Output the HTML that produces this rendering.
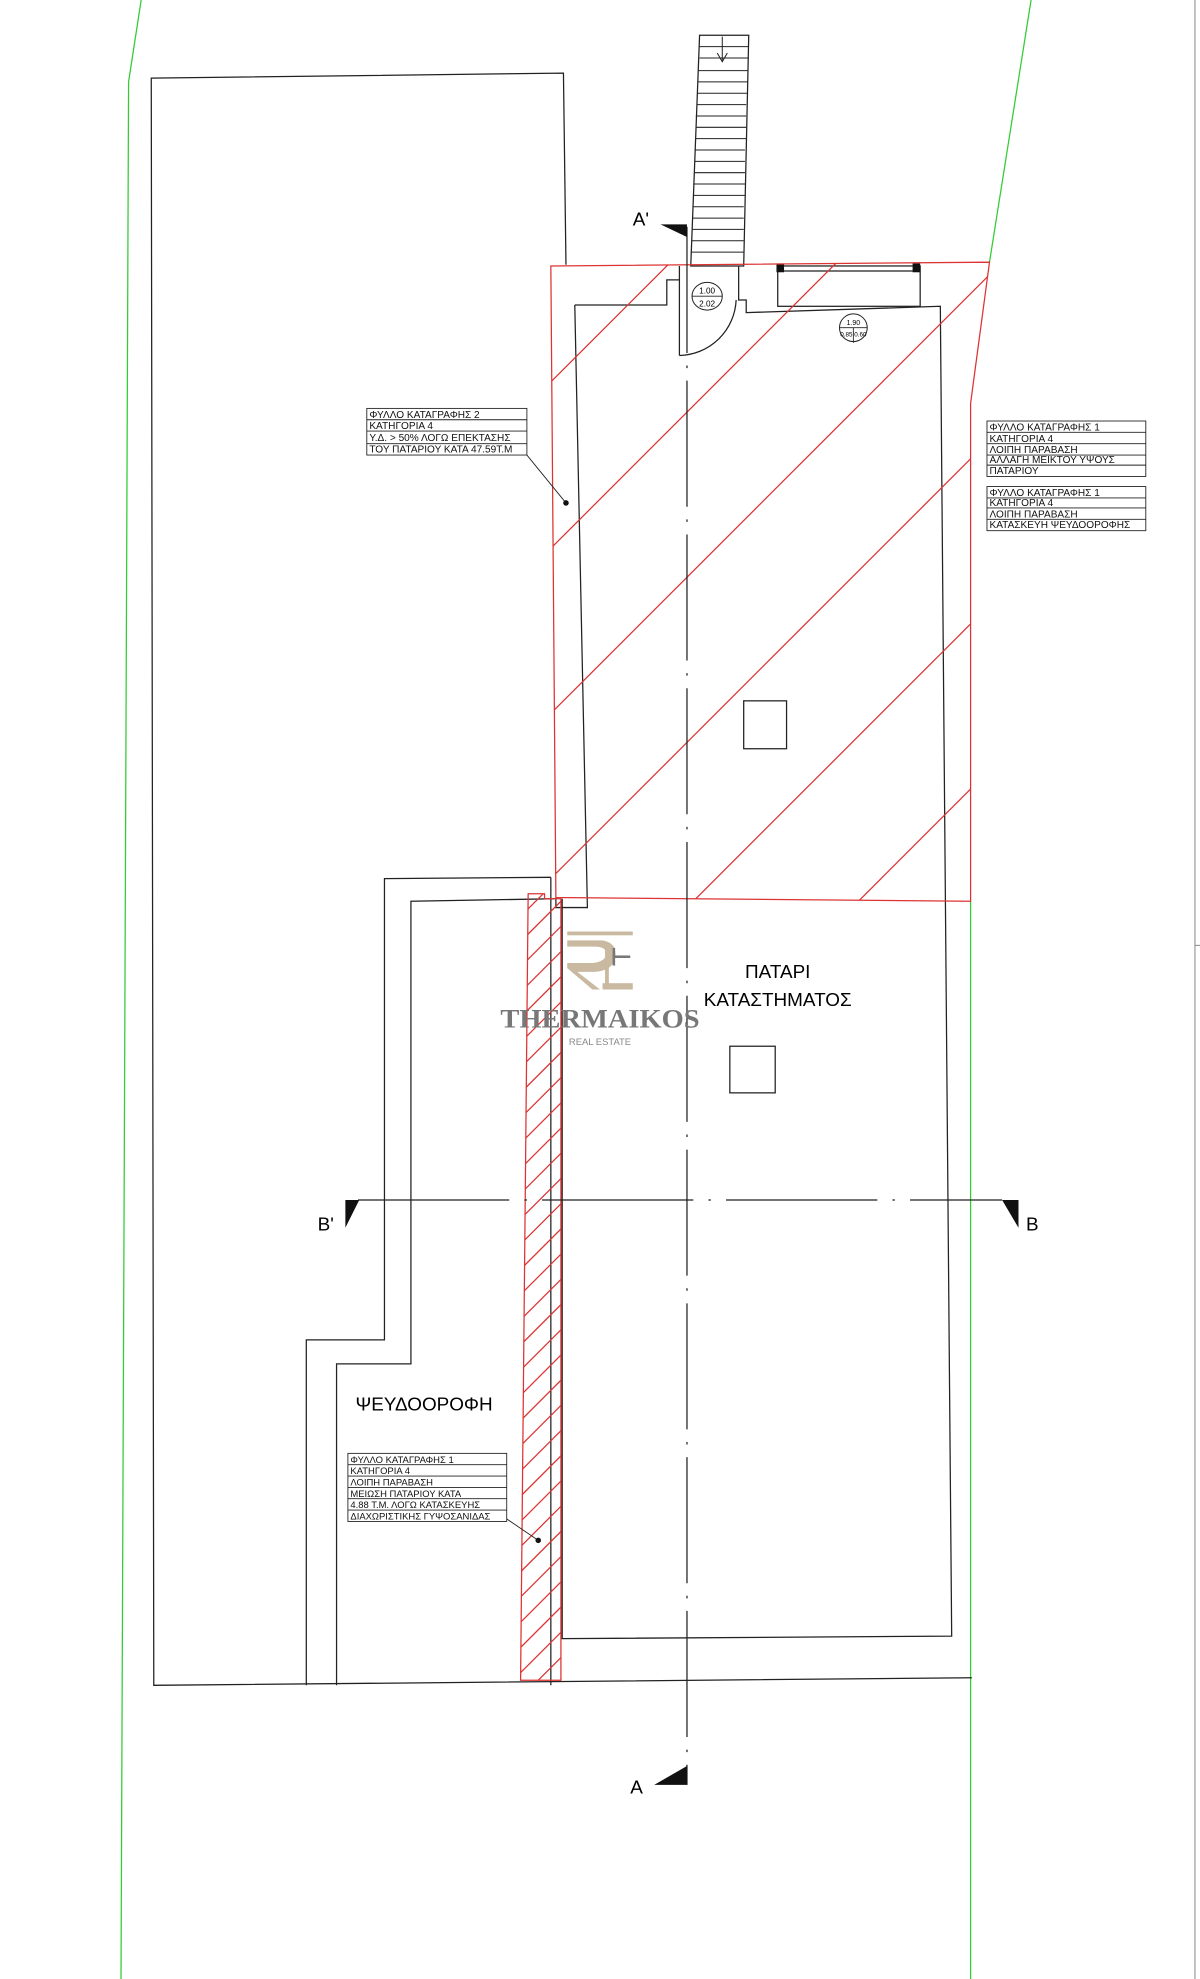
<!DOCTYPE html>
<html><head><meta charset="utf-8"><style>
html,body{margin:0;padding:0;background:#fff;}
svg{display:block;}
text{font-family:"Liberation Sans",sans-serif;}
</style></head><body>
<svg width="1200" height="1979" viewBox="0 0 952 1570" preserveAspectRatio="none" xmlns="http://www.w3.org/2000/svg">
<defs>
<clipPath id="c1"><polygon points="437,211 785,208 770,320 770,715 441,712"/></clipPath>
<clipPath id="c2"><polygon points="419,709 445,709 445,1333 413,1333"/></clipPath>
</defs>
<rect width="952" height="1570" fill="#fff"/>
<polyline points="112,0 102,65 96,1570" fill="none" stroke="#3c3" stroke-width="1"/>
<polyline points="818,0 785,208" fill="none" stroke="#3c3" stroke-width="1"/>
<line x1="770" y1="715" x2="770" y2="1570" stroke="#3c3" stroke-width="1"/>
<line x1="948" y1="0" x2="948" y2="1570" stroke="#888" stroke-width="0.8"/>
<line x1="948" y1="750" x2="952" y2="750" stroke="#888" stroke-width="0.8"/>

<g fill="none" stroke="#222" stroke-width="1">
<polyline points="449,210 447,58 120,62 122,1337 771,1331"/>
<polyline points="437,696 305,697 305,1063 243,1063 243,1337"/>
<polyline points="440,713 326,715 326,1082 267,1082 267,1337"/>
<line x1="437" y1="696" x2="437" y2="1337"/>
<polyline points="456,242 466,720 441,720 441,712"/>
<polyline points="456,242 529,242 529,222 539,222"/>
<line x1="539" y1="211" x2="539" y2="282"/>
<path d="M539,282 A46,46 0 0 0 584,238"/>
<polyline points="586,211 586,238 592,238 592,248 746,243 755,1298 446,1300 446,713"/>
<rect x="617" y="211" width="113" height="32"/>
<line x1="620" y1="215" x2="727" y2="215"/>
<rect x="590" y="556" width="34" height="38"/>
<rect x="579" y="830" width="36" height="37"/>
<polygon points="555,28 594,28 590,211 548,211"/>
</g>
<rect x="616" y="209" width="6" height="7" fill="#111"/>
<rect x="724" y="209" width="6" height="7" fill="#111"/>
<g stroke="#222" stroke-width="0.8">
<line x1="555" y1="37" x2="594" y2="37"/><line x1="555" y1="46" x2="594" y2="46"/>
<line x1="554" y1="56" x2="593" y2="56"/><line x1="554" y1="65" x2="593" y2="65"/>
<line x1="553" y1="74" x2="593" y2="74"/><line x1="553" y1="83" x2="592" y2="83"/>
<line x1="552" y1="92" x2="592" y2="92"/><line x1="552" y1="101" x2="592" y2="101"/>
<line x1="552" y1="110" x2="592" y2="110"/><line x1="551" y1="119" x2="591" y2="119"/>
<line x1="551" y1="128" x2="591" y2="128"/><line x1="551" y1="137" x2="591" y2="137"/>
<line x1="550" y1="146" x2="591" y2="146"/><line x1="550" y1="155" x2="591" y2="155"/>
<line x1="550" y1="164" x2="590" y2="164"/><line x1="549" y1="173" x2="590" y2="173"/>
<line x1="549" y1="182" x2="590" y2="182"/><line x1="549" y1="191" x2="590" y2="191"/>
<line x1="548" y1="200" x2="590" y2="200"/>
<line x1="573" y1="29" x2="573" y2="48"/>
<polyline points="569,42 573,49 577,42" fill="none"/>
</g>
<g stroke="#d33" stroke-width="1" fill="none">
<polygon points="437,211 785,208 770,320 770,715 441,712"/>
<g clip-path="url(#c1)">
<line x1="400" y1="340" x2="800" y2="-60"/>
<line x1="400" y1="472" x2="900" y2="-28"/>
<line x1="400" y1="603" x2="900" y2="103"/>
<line x1="400" y1="734" x2="900" y2="234"/>
<line x1="400" y1="865" x2="900" y2="365"/>
<line x1="400" y1="996" x2="900" y2="496"/>
<line x1="400" y1="1127" x2="900" y2="627"/>
</g>
<polygon points="419,709 432,709 432,713 445,713 445,1333 413,1333"/>
<g clip-path="url(#c2)">
<line x1="400" y1="740" x2="460" y2="680"/><line x1="400" y1="760" x2="460" y2="700"/>
<line x1="400" y1="780" x2="460" y2="720"/><line x1="400" y1="800" x2="460" y2="740"/>
<line x1="400" y1="820" x2="460" y2="760"/><line x1="400" y1="840" x2="460" y2="780"/>
<line x1="400" y1="860" x2="460" y2="800"/><line x1="400" y1="880" x2="460" y2="820"/>
<line x1="400" y1="900" x2="460" y2="840"/><line x1="400" y1="920" x2="460" y2="860"/>
<line x1="400" y1="940" x2="460" y2="880"/><line x1="400" y1="960" x2="460" y2="900"/>
<line x1="400" y1="980" x2="460" y2="920"/><line x1="400" y1="1000" x2="460" y2="940"/>
<line x1="400" y1="1020" x2="460" y2="960"/><line x1="400" y1="1040" x2="460" y2="980"/>
<line x1="400" y1="1060" x2="460" y2="1000"/><line x1="400" y1="1080" x2="460" y2="1020"/>
<line x1="400" y1="1100" x2="460" y2="1040"/><line x1="400" y1="1120" x2="460" y2="1060"/>
<line x1="400" y1="1140" x2="460" y2="1080"/><line x1="400" y1="1160" x2="460" y2="1100"/>
<line x1="400" y1="1180" x2="460" y2="1120"/><line x1="400" y1="1200" x2="460" y2="1140"/>
<line x1="400" y1="1220" x2="460" y2="1160"/><line x1="400" y1="1240" x2="460" y2="1180"/>
<line x1="400" y1="1260" x2="460" y2="1200"/><line x1="400" y1="1280" x2="460" y2="1220"/>
<line x1="400" y1="1300" x2="460" y2="1240"/><line x1="400" y1="1320" x2="460" y2="1260"/>
<line x1="400" y1="1340" x2="460" y2="1280"/><line x1="400" y1="1360" x2="460" y2="1300"/>
<line x1="400" y1="1380" x2="460" y2="1320"/>
</g>
</g>

<line x1="545" y1="180" x2="545" y2="1416" stroke="#222" stroke-width="1" stroke-dasharray="100,10,2,10"/>
<polygon points="524,178 545,178 545,188" fill="#111"/>
<text x="502" y="179" font-size="15">A'</text>
<polygon points="519,1416 545,1401 545,1416" fill="#111"/>
<text x="500" y="1423" font-size="15">A</text>
<line x1="284" y1="952" x2="795" y2="952" stroke="#222" stroke-width="1" stroke-dasharray="120,12,2,12"/>
<polygon points="274,952 285,952 274,974" fill="#111"/>
<polygon points="795,952 808,952 808,974" fill="#111"/>
<text x="252" y="976" font-size="15">B'</text>
<text x="814" y="976" font-size="15">B</text>

<g fill="#fff" stroke="#222" stroke-width="0.8">
<ellipse cx="561" cy="235" rx="12" ry="11"/>
<ellipse cx="677" cy="260" rx="11" ry="11"/>
</g>
<line x1="549" y1="235" x2="573" y2="235" stroke="#222" stroke-width="0.7"/>
<line x1="666" y1="260" x2="688" y2="260" stroke="#222" stroke-width="0.7"/>
<line x1="677" y1="260" x2="677" y2="272" stroke="#222" stroke-width="0.7"/>
<text x="561" y="233" font-size="6.5" text-anchor="middle">1.00</text>
<text x="561" y="243" font-size="6.5" text-anchor="middle">2.02</text>
<text x="677" y="258" font-size="5.5" text-anchor="middle">1.90</text>
<text x="677" y="267" font-size="5" text-anchor="middle">0.85 0.60</text>

<text x="617" y="776" font-size="15" text-anchor="middle">ΠΑΤΑΡΙ</text>
<text x="617" y="798" font-size="15" text-anchor="middle">ΚΑΤΑΣΤΗΜΑΤΟΣ</text>
<text x="282" y="1119" font-size="15">ΨΕΥΔΟΟΡΟΦΗ</text>

<g fill="#c9b9a0">
<rect x="450" y="739" width="52" height="3"/>
<path d="M450,746 L478,746 Q490,748 488,760 Q486,770 472,771 L458,771 L476,785 L470,785 L450,768 L450,764 L470,764 Q480,763 481,757 Q481,751 472,751 L450,751 Z"/>
<rect x="478" y="780" width="24" height="5"/>
<rect x="480" y="748" width="3" height="34"/>
</g>
<g fill="#777"><rect x="486" y="752" width="2" height="14"/><rect x="486" y="758" width="14" height="2"/></g>
<text x="476" y="815" font-size="21" font-weight="bold" fill="#777" text-anchor="middle" style="font-family:'Liberation Serif',serif" textLength="158" lengthAdjust="spacingAndGlyphs">THERMAIKOS</text>
<text x="476" y="829" font-size="7.5" fill="#888" text-anchor="middle">REAL ESTATE</text>

<g fill="none" stroke="#222" stroke-width="0.7">
<rect x="291" y="324" width="127" height="37"/>
<line x1="291" y1="333" x2="418" y2="333"/><line x1="291" y1="342" x2="418" y2="342"/><line x1="291" y1="352" x2="418" y2="352"/>
<line x1="418" y1="361" x2="449" y2="399"/>
<rect x="783" y="334" width="126" height="44"/>
<line x1="783" y1="343" x2="909" y2="343"/><line x1="783" y1="352" x2="909" y2="352"/><line x1="783" y1="361" x2="909" y2="361"/><line x1="783" y1="369" x2="909" y2="369"/>
<rect x="783" y="386" width="126" height="35"/>
<line x1="783" y1="395" x2="909" y2="395"/><line x1="783" y1="403" x2="909" y2="403"/><line x1="783" y1="412" x2="909" y2="412"/>
<rect x="276" y="1153" width="126" height="54"/>
<line x1="276" y1="1162" x2="402" y2="1162"/><line x1="276" y1="1171" x2="402" y2="1171"/><line x1="276" y1="1180" x2="402" y2="1180"/><line x1="276" y1="1189" x2="402" y2="1189"/><line x1="276" y1="1198" x2="402" y2="1198"/>
<line x1="402" y1="1205" x2="427" y2="1222"/>
</g>
<circle cx="449" cy="399" r="2.2" fill="#111"/>
<circle cx="427" cy="1222" r="2.2" fill="#111"/>
<g font-size="8" fill="#111">
<text x="293" y="331.5">ΦΥΛΛΟ ΚΑΤΑΓΡΑΦΗΣ 2</text>
<text x="293" y="340.5">ΚΑΤΗΓΟΡΙΑ 4</text>
<text x="293" y="350">Υ.Δ. &gt; 50% ΛΟΓΩ ΕΠΕΚΤΑΣΗΣ</text>
<text x="293" y="359">ΤΟΥ ΠΑΤΑΡΙΟΥ ΚΑΤΑ 47.59Τ.Μ</text>
<text x="785" y="341.5">ΦΥΛΛΟ ΚΑΤΑΓΡΑΦΗΣ 1</text>
<text x="785" y="350.5">ΚΑΤΗΓΟΡΙΑ 4</text>
<text x="785" y="359.5">ΛΟΙΠΗ ΠΑΡΑΒΑΣΗ</text>
<text x="785" y="367.5">ΑΛΛΑΓΗ ΜΕΙΚΤΟΥ ΥΨΟΥΣ</text>
<text x="785" y="376">ΠΑΤΑΡΙΟΥ</text>
<text x="785" y="393.5">ΦΥΛΛΟ ΚΑΤΑΓΡΑΦΗΣ 1</text>
<text x="785" y="401.5">ΚΑΤΗΓΟΡΙΑ 4</text>
<text x="785" y="410.5">ΛΟΙΠΗ ΠΑΡΑΒΑΣΗ</text>
<text x="785" y="419">ΚΑΤΑΣΚΕΥΗ ΨΕΥΔΟΟΡΟΦΗΣ</text>
</g>
<g font-size="7.5" fill="#111">
<text x="278" y="1160.5">ΦΥΛΛΟ ΚΑΤΑΓΡΑΦΗΣ 1</text>
<text x="278" y="1169.5">ΚΑΤΗΓΟΡΙΑ 4</text>
<text x="278" y="1178.5">ΛΟΙΠΗ ΠΑΡΑΒΑΣΗ</text>
<text x="278" y="1187.5">ΜΕΙΩΣΗ ΠΑΤΑΡΙΟΥ ΚΑΤΑ</text>
<text x="278" y="1196.5">4.88 Τ.Μ. ΛΟΓΩ ΚΑΤΑΣΚΕΥΗΣ</text>
<text x="278" y="1205.5">ΔΙΑΧΩΡΙΣΤΙΚΗΣ ΓΥΨΟΣΑΝΙΔΑΣ</text>
</g>
</svg>
</body></html>
